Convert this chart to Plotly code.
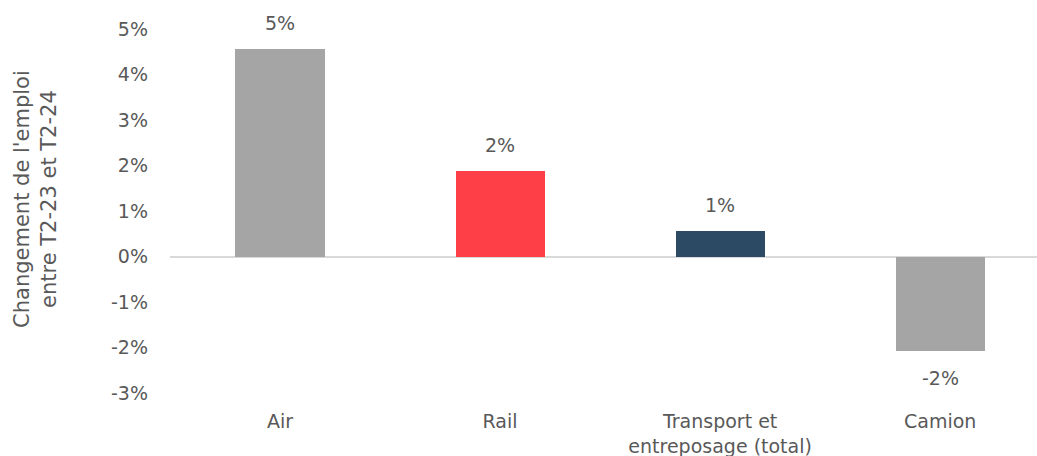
import plotly.graph_objects as go

categories = ["Air", "Rail", "Transport et<br>entreposage (total)", "Camion"]
changes = [0.0456, 0.0187, 0.0055, -0.0208]
bar_colors = ["#A5A5A5", "#FF3F47", "#2C4A63", "#A5A5A5"]
y_ticks = [-0.03, -0.02, -0.01, 0, 0.01, 0.02, 0.03, 0.04, 0.05]
y_tick_labels = ["-3%", "-2%", "-1%", "0%", "1%", "2%", "3%", "4%", "5%"]

FONT = "'DejaVu Sans', sans-serif"
TEXT = "#595959"


def pct_label(v):
    # whole-percent label with a plain hyphen for negatives
    return f"{round(v * 100):d}%"


fig = go.Figure()
fig.add_trace(go.Bar(
    x=list(range(len(categories))),
    y=changes,
    marker=dict(color=bar_colors, line=dict(width=0)),
    width=0.405,
    hoverinfo="skip",
))

# value labels above positive bars, below negative ones
for i, v in enumerate(changes):
    fig.add_annotation(
        x=i, y=v, text=pct_label(v), showarrow=False,
        yshift=26 if v >= 0 else -27,
        font=dict(family=FONT, size=19, color=TEXT),
    )

fig.add_annotation(
    xref="paper", yref="paper", x=-0.1546, y=0.533,
    xanchor="center", yanchor="middle",
    text="Changement de l'emploi<br>entre T2-23 et T2-24",
    textangle=-90, showarrow=False,
    font=dict(family=FONT, size=21, color=TEXT),
)

fig.update_layout(
    width=1037, height=456,
    margin=dict(l=170, r=0, t=29, b=63),
    paper_bgcolor="white", plot_bgcolor="white",
    showlegend=False,
    bargap=0,
    font=dict(family=FONT, size=19, color=TEXT),
    xaxis=dict(
        range=[-0.5, 3.44],
        tickmode="array",
        tickvals=list(range(len(categories))),
        ticktext=categories,
        showgrid=False, zeroline=False, showline=False,
        ticks="", ticklabelstandoff=15,
        tickfont=dict(family=FONT, size=19, color=TEXT),
        fixedrange=True,
    ),
    yaxis=dict(
        range=[-0.03, 0.05],
        tickmode="array",
        tickvals=y_ticks,
        ticktext=y_tick_labels,
        showgrid=False,
        zeroline=True, zerolinecolor="#D9D9D9", zerolinewidth=2,
        showline=False, ticks="",
        ticklabelstandoff=21,
        tickfont=dict(family=FONT, size=19, color=TEXT),
        fixedrange=True,
    ),
)

fig.write_html("out.html")
